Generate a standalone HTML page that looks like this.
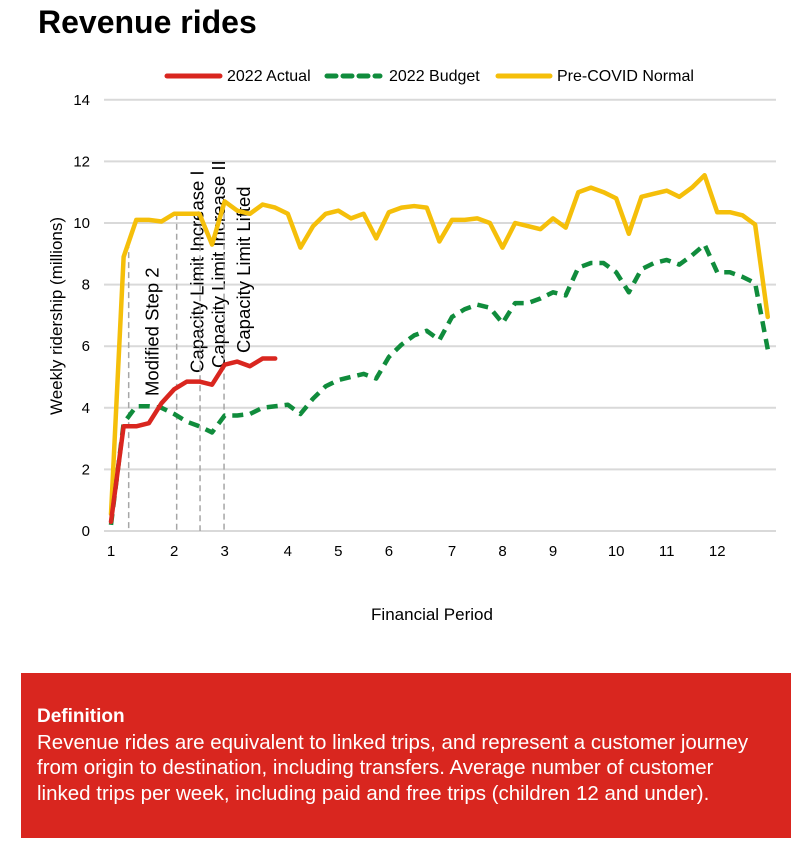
<!DOCTYPE html>
<html><head><meta charset="utf-8">
<style>
body{margin:0;width:805px;height:855px;background:#fff;font-family:"Liberation Sans",Arial,sans-serif;overflow:hidden;position:relative}
h1{position:absolute;left:38px;top:4px;margin:0;font-size:32px;font-weight:bold;color:#000}
#def{position:absolute;left:21px;top:673px;width:770px;height:165px;background:#d9261f;color:#fff;box-sizing:border-box;padding:31px 30px 0 16px;font-size:20.5px;line-height:25.5px}
#def b{display:block;font-size:19px}
</style></head><body>
<h1>Revenue rides</h1>
<svg id="chart" width="805" height="660" style="position:absolute;left:0;top:0" font-family="Liberation Sans, Arial, sans-serif"></svg>
<div id="def"><b>Definition</b><span>Revenue rides are equivalent to linked trips, and represent a customer journey from origin to destination, including transfers. Average number of customer linked trips per week, including paid and free trips (children 12 and under).</span></div>
<script>
const yTicks=[0,2,4,6,8,10,12,14];
const periodLabels=["1","2","3","4","5","6","7","8","9","10","11","12"];
const periodWeeks=[0,5,9,14,18,22,27,31,35,40,44,48];
const preCovid=[0.55,8.9,10.1,10.1,10.05,10.3,10.3,10.3,9.3,10.7,10.4,10.3,10.6,10.5,10.3,9.2,9.9,10.3,10.4,10.15,10.3,9.5,10.35,10.5,10.55,10.5,9.4,10.1,10.1,10.15,10.0,9.2,10.0,9.9,9.8,10.15,9.85,11.0,11.15,11.0,10.8,9.65,10.85,10.95,11.05,10.85,11.15,11.55,10.35,10.35,10.25,9.95,6.95];
const budget=[0.2,3.5,4.05,4.05,4.0,3.8,3.55,3.4,3.2,3.75,3.75,3.8,4.0,4.05,4.1,3.8,4.3,4.7,4.9,5.0,5.1,4.95,5.65,6.05,6.35,6.5,6.2,6.95,7.2,7.35,7.25,6.75,7.4,7.4,7.55,7.75,7.65,8.55,8.7,8.7,8.4,7.75,8.5,8.7,8.8,8.65,8.95,9.3,8.4,8.4,8.25,8.05,5.9];
const actual=[0.3,3.4,3.4,3.5,4.15,4.6,4.85,4.85,4.75,5.4,5.5,5.35,5.6,5.6];
const eventNames=["Modified Step 2","Capacity Limit Increase I","Capacity Limit Increase II","Capacity Limit Lifted"];
const eventWeeks=[1.4,5.2,7.05,8.95];
const eventLabelBottoms=[396,373,368,353];
const eventLabelOffsets=[23,20,18,19];

const NS="http://www.w3.org/2000/svg";
const svg=document.getElementById('chart');
const X0=111,XW=12.63,Y0=531,YU=30.8;
const xs=w=>X0+w*XW, ys=v=>Y0-v*YU;
function mk(t,a,p){const e=document.createElementNS(NS,t);for(const k in a)e.setAttribute(k,a[k]);(p||svg).appendChild(e);return e;}

yTicks.forEach(v=>{
  const g=mk('line',{x1:104,x2:776,y1:ys(v),y2:ys(v),stroke:'#d9d9d9','stroke-width':2});
  
  
  const t=mk('text',{x:90,y:ys(v)+5,'text-anchor':'end','font-size':15,fill:'#000'});
  t.textContent=v;
  
  
});
periodLabels.forEach((l,i)=>{
  const t=mk('text',{x:xs(periodWeeks[i]),y:556,'text-anchor':'middle','font-size':15,fill:'#000'});
  t.textContent=l;
  
  
});
function interp(arr,w){const i=Math.floor(w),f=w-i;return arr[i]+(arr[Math.min(i+1,arr.length-1)]-arr[i])*f;}
eventWeeks.forEach((w,i)=>{
  const l=mk('line',{x1:xs(w),x2:xs(w),y1:ys(interp(preCovid,w)),y2:Y0,stroke:'#a6a6a6','stroke-width':1.5,'stroke-dasharray':'6,4'});
  
  
  const cx=xs(w)+eventLabelOffsets[i],by=eventLabelBottoms[i];
  const t=mk('text',{x:0,y:0,transform:`translate(${cx+7},${by}) rotate(-90)`,'font-size':18.5,fill:'#000'});
  t.textContent=eventNames[i];
  
  
});
function line(arr,color,dash,name){
  const p=mk('polyline',{points:arr.map((v,i)=>xs(i)+','+ys(v)).join(' '),fill:'none',stroke:color,'stroke-width':4.5,'stroke-linejoin':'round','stroke-linecap':dash?'butt':'round'});
  if(dash)p.setAttribute('stroke-dasharray',dash);
  
  
}
line(preCovid,'#f5bf0a',null,'pre-covid-line');
line(budget,'#108c3c','11,7','budget-line');
line(actual,'#d9261f',null,'actual-line');

const yt=mk('text',{transform:'translate(62,316) rotate(-90)','text-anchor':'middle','font-size':17,fill:'#000'});
yt.textContent='Weekly ridership (millions)';


const xt=mk('text',{x:432,y:620,'text-anchor':'middle','font-size':17,fill:'#000'});
xt.textContent='Financial Period';



const legend=[["2022 Actual","#d9261f",null,167,220,227],["2022 Budget","#108c3c","9,7",327,380,389],["Pre-COVID Normal","#f5bf0a",null,498,550,557]];
legend.forEach((e,i)=>{
  const l=mk('line',{x1:e[3],x2:e[4],y1:76,y2:76,stroke:e[1],'stroke-width':5,'stroke-linecap':'round'});
  if(e[2])l.setAttribute('stroke-dasharray',e[2]);
  
  
  const t=mk('text',{x:e[5],y:81,'font-size':16,fill:'#000'});
  t.textContent=e[0];
  
  
});
</script>
</body></html>
